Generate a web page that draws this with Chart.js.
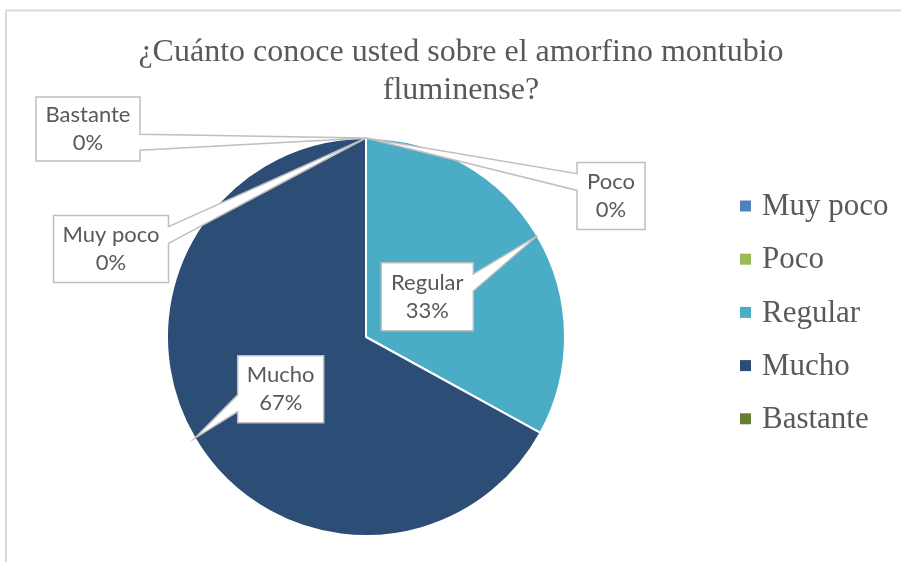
<!DOCTYPE html>
<html>
<head>
<meta charset="utf-8">
<script src="https://cdn.jsdelivr.net/npm/chart.js@4.4.1/dist/chart.umd.min.js"></script>
<style>
html, body { margin: 0; padding: 0; background: #fff; }
</style>
</head>
<body>
<canvas id="graf" width="901" height="562"></canvas>
<script>
const titulo = ['¿Cuánto conoce usted sobre el amorfino montubio', 'fluminense?']
const categorias = ['Muy poco', 'Poco', 'Regular', 'Mucho', 'Bastante']
const porcentajes = [0, 0, 33, 67, 0]
const colores = ['#4f81bd', '#9bbb59', '#4bacc6', '#2c4d75', '#627f33']

// posicion de cada etiqueta (centro de la caja respecto a la punta)
const llamadas = [
    { dx: -255, dy: 111, w: 115, h: 67 },
    { dx: 245, dy: 58, w: 68, h: 67 },
    { dx: -110, dy: 61, w: 92, h: 68 },
    { dx: 86, dy: -49, w: 86, h: 67 },
    { dx: -278, dy: -9, w: 104, h: 64 }
]

const gris = '#595959'

const marco = {
    id: 'marco',
    beforeDraw(chart) {
        const c = chart.ctx
        c.save()
        c.fillStyle = '#fff'
        c.fillRect(0, 0, chart.width, chart.height)
        c.strokeStyle = '#d9d9d9'
        c.lineWidth = 2
        c.strokeRect(6, 10.5, chart.width + 20, chart.height + 20)
        // titulo
        c.fillStyle = gris
        c.font = '32px "Liberation Serif"'
        c.textAlign = 'center'
        c.textBaseline = 'middle'
        titulo.forEach((linea, i) => c.fillText(linea, 461, 53 + i * 38))
        // leyenda
        c.font = '31px "Liberation Serif"'
        c.textAlign = 'left'
        chart.data.labels.forEach((nombre, i) => {
            const y = 206 + i * 53.2
            c.fillStyle = chart.data.datasets[0].backgroundColor[i]
            c.fillRect(740, y - 5.5, 11, 11)
            c.fillStyle = gris
            c.fillText(nombre, 762, y + 1)
        })
        c.restore()
    }
}

function caja(c, px, py, cx, cy, w, h) {
    const l = cx - w / 2, t = cy - h / 2, r = cx + w / 2, b = cy + h / 2
    const dx = px - cx, dy = py - cy
    const horiz = Math.abs(dy) < Math.abs(dx * h / w)
    const x1 = l + w * (dx > 0 ? 7 : 2) / 12, x2 = l + w * (dx > 0 ? 10 : 5) / 12
    const y1 = t + h * (dy > 0 ? 7 : 2) / 12, y2 = t + h * (dy > 0 ? 10 : 5) / 12
    c.beginPath()
    c.moveTo(l, t)
    if (!horiz && dy < 0) { c.lineTo(x1, t); c.lineTo(px, py); c.lineTo(x2, t) }
    c.lineTo(r, t)
    if (horiz && dx > 0) { c.lineTo(r, y1); c.lineTo(px, py); c.lineTo(r, y2) }
    c.lineTo(r, b)
    if (!horiz && dy > 0) { c.lineTo(x2, b); c.lineTo(px, py); c.lineTo(x1, b) }
    c.lineTo(l, b)
    if (horiz && dx < 0) { c.lineTo(l, y2); c.lineTo(px, py); c.lineTo(l, y1) }
    c.closePath()
    c.fillStyle = '#fff'
    c.fill()
    c.stroke()
}

const etiquetas = {
    id: 'etiquetas',
    afterDatasetsDraw(chart) {
        const c = chart.ctx
        const datos = chart.data.datasets[0].data
        const total = datos.reduce((a, b) => a + b, 0)
        const arcos = chart.getDatasetMeta(0).data
        c.save()
        c.strokeStyle = '#bfbfbf'
        c.lineWidth = 1.5
        c.lineJoin = 'miter'
        c.font = '22px Lato'
        c.textAlign = 'center'
        c.textBaseline = 'middle'
        arcos.forEach((arco, i) => {
            const p = arco.getProps(['x', 'y', 'startAngle', 'endAngle', 'outerRadius'], true)
            const ang = (p.startAngle + p.endAngle) / 2
            const px = p.x + Math.cos(ang) * p.outerRadius
            const py = p.y + Math.sin(ang) * p.outerRadius
            const ll = llamadas[i]
            const cx = px + ll.dx, cy = py + ll.dy
            caja(c, px, py, cx, cy, ll.w, ll.h)
            c.fillStyle = gris
            c.fillText(chart.data.labels[i], cx, cy - 14)
            c.fillText(Math.round(datos[i] / total * 100) + '%', cx, cy + 14)
        })
        c.restore()
    }
}

const graf = document.getElementById('graf')
const myChart = new Chart(graf, {
    type: 'pie',
    data: {
        labels: categorias,
        datasets: [
            {
                data: porcentajes,
                backgroundColor: colores,
                borderColor: '#fff',
                borderWidth: 2
            }
        ]
    },
    options: {
        responsive: false,
        animation: false,
        layout: {
            padding: { left: 166, right: 335, top: 137, bottom: 25 }
        },
        plugins: {
            legend: { display: false },
            title: { display: false },
            tooltip: { enabled: false }
        }
    },
    plugins: [marco, etiquetas]
})
</script>
</body>
</html>
